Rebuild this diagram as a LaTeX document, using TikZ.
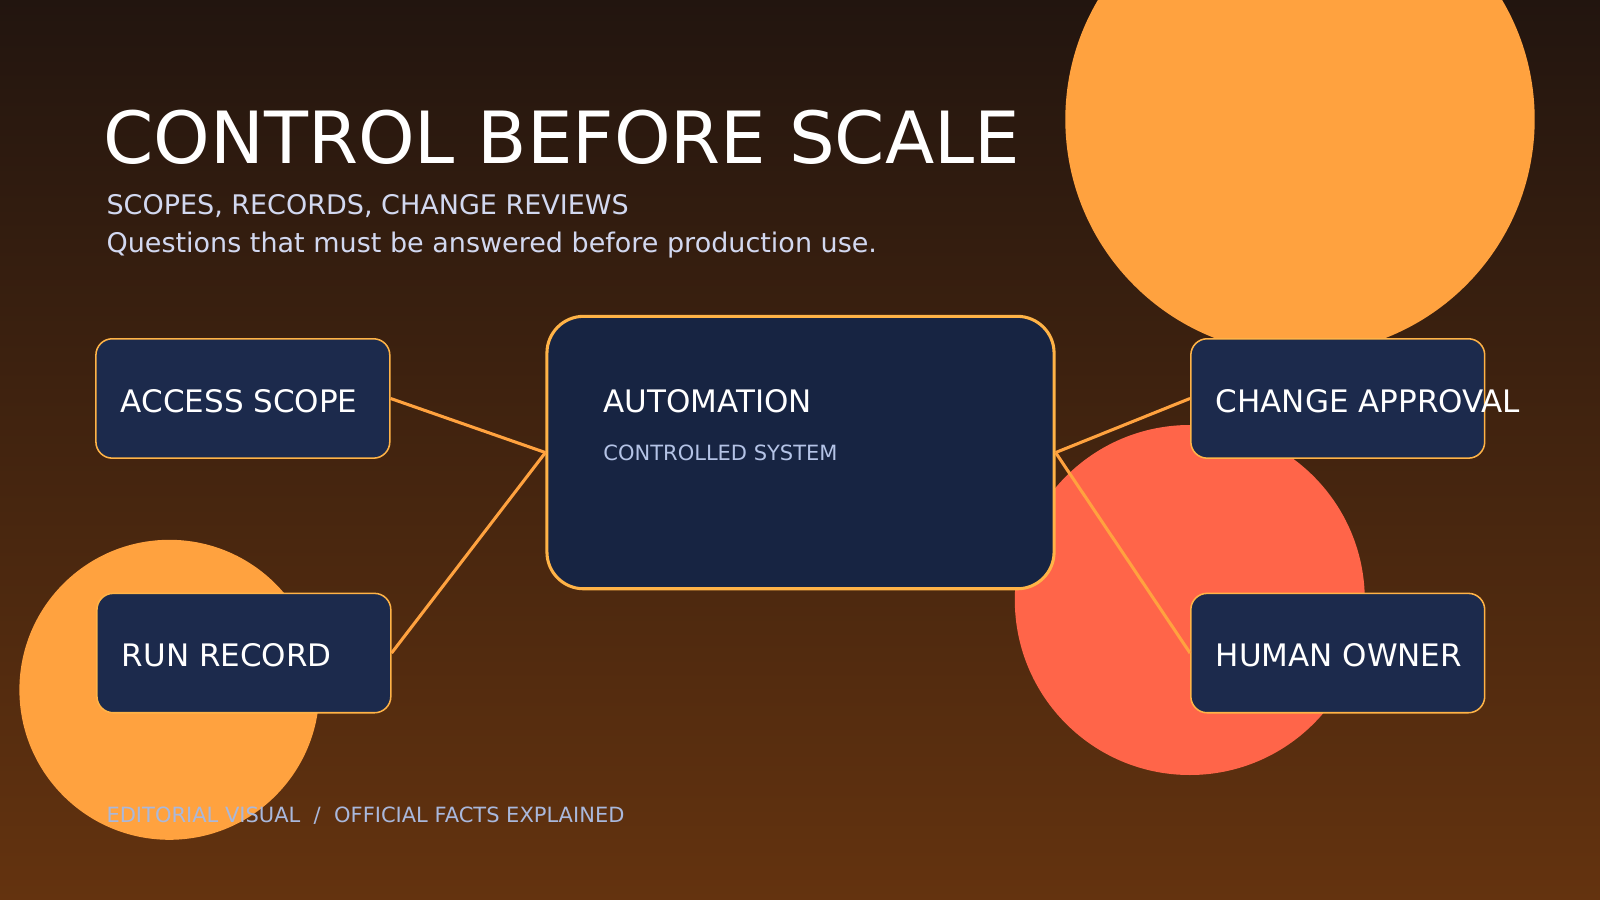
\documentclass[tikz,border=0pt]{standalone}
\usepackage{fontspec}
\setmainfont{DejaVu Sans}
\begin{document}
\begin{tikzpicture}[x=0.5pt,y=-0.5pt]
\definecolor{bgtop}{HTML}{22150F}
\definecolor{bgbot}{HTML}{64330F}
\definecolor{orng}{HTML}{FFA23F}
\definecolor{redc}{HTML}{FF6549}
\definecolor{boxfill}{HTML}{1C2A4C}
\definecolor{autofill}{HTML}{172442}
\definecolor{bord}{HTML}{FFB347}
\definecolor{subc}{HTML}{D2D8F0}
\definecolor{smallc}{HTML}{B4C3E6}
\definecolor{footc}{HTML}{A9B8DC}
\tikzset{
  sidebox/.style={draw=bord, line width=0.75pt, fill=boxfill, rounded corners=8pt,
    minimum width=144pt, minimum height=58.5pt, inner sep=0pt},
  autobox/.style={draw=bord, line width=1.5pt, fill=autofill, rounded corners=18pt,
    minimum width=248.5pt, minimum height=133.5pt, inner sep=0pt},
  lbl/.style={text=white, font=\fontsize{15.19pt}{18pt}\selectfont, inner sep=0pt, anchor=base west},
  conn/.style={draw=orng, line width=1.5pt},
}
\useasboundingbox (0,0) rectangle (1568,882);
\shade[top color=bgtop, bottom color=bgbot] (0,0) rectangle (1568,882);
% decorative circles
\fill[orng] (1274,117) circle[radius=115pt];
\fill[redc] (1166,588) circle[radius=85.75pt];
\fill[orng] (166,676) circle[radius=73.5pt];
% title
\node[text=white, font=\fontsize{35.28pt}{42pt}\selectfont, inner sep=0pt, anchor=base west] (title) at (101,160) {CONTROL BEFORE SCALE};
\node[text=subc, font=\fontsize{13.23pt}{16pt}\selectfont, inner sep=0pt, anchor=base west] (sub1) at (104,210) {SCOPES, RECORDS, CHANGE REVIEWS};
\node[text=subc, font=\fontsize{13.23pt}{16pt}\selectfont, inner sep=0pt, anchor=base west] (sub2) at (104,247) {Questions that must be answered before production use.};
% boxes
\node[sidebox] (access) at (238,390.5) {};
\node[sidebox] (run) at (239,640) {};
\node[sidebox] (change) at (1311,390.5) {};
\node[sidebox] (human) at (1311,640) {};
\node[autobox] (auto) at (784.5,443.5) {};
% connectors
\draw[conn] (access.east) -- (auto.west);
\draw[conn] (run.east) -- (auto.west);
\draw[conn] (change.west) -- (auto.east);
\draw[conn] (human.west) -- (auto.east);
% labels
\node[lbl] (tacc) at (118,404) {ACCESS SCOPE};
\node[lbl] (trun) at (119,653) {RUN RECORD};
\node[lbl] (tchg) at (1191,404) {CHANGE APPROVAL};
\node[lbl] (thum) at (1191,653) {HUMAN OWNER};
\node[lbl] (tauto) at (591,404) {AUTOMATION};
\node[text=smallc, font=\fontsize{10.29pt}{12pt}\selectfont, inner sep=0pt, anchor=base west] (tctl) at (591,451) {CONTROLLED SYSTEM};
% footer
\node[text=footc, font=\fontsize{10.29pt}{12pt}\selectfont, inner sep=0pt, anchor=base west] (foot) at (104,806) {EDITORIAL VISUAL\ \ /\ \ OFFICIAL FACTS EXPLAINED};
\end{tikzpicture}
\end{document}
